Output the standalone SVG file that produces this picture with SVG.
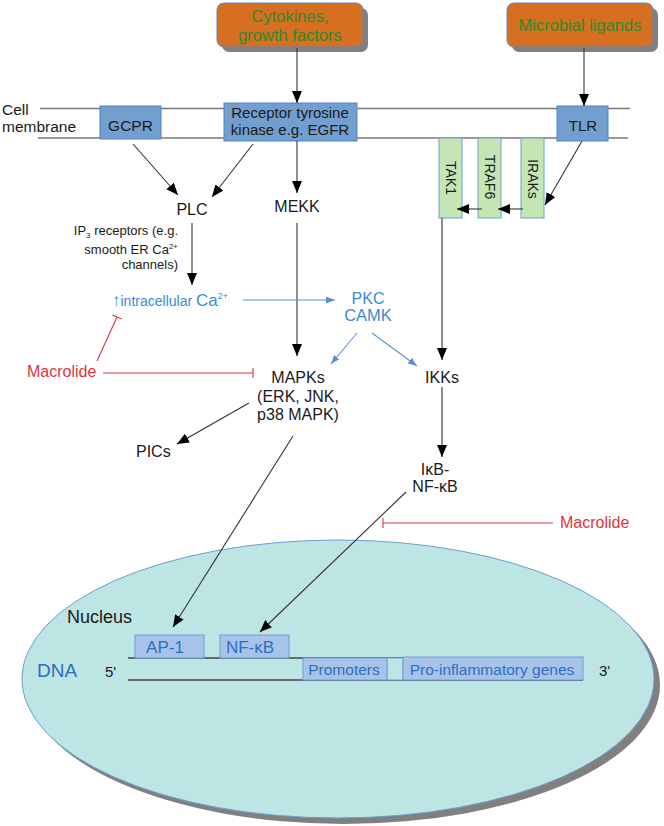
<svg xmlns="http://www.w3.org/2000/svg" width="664" height="826" viewBox="0 0 664 826">
<style>
text{font-family:"Liberation Sans",Arial,sans-serif;fill:#1a1a1a}
.blk{font-size:16px}
.blu{fill:#3a8ad6}
.red{fill:#e2333a;font-size:16px}
.grn{fill:#2f8a2f;font-size:16.5px}
.orange{fill:#d66f1f;stroke:#5a86c0;stroke-width:1}
.shadow{fill:#808080}
.rbox{fill:#729fcf;stroke:#4f83c4;stroke-width:1}
.gbox{fill:#c3e6b4;stroke:#6f9fd0;stroke-width:1}
.nbox{fill:#a8c3ea;stroke:#6f9fd2;stroke-width:1}
.ntext{fill:#2c6fc0}
.mem{stroke:#777;stroke-width:1.5;fill:none}
.arr{stroke:#333;stroke-width:1.1;fill:none;marker-end:url(#ah)}
.barr{stroke:#5b90d6;stroke-width:1.1;fill:none;marker-end:url(#bh)}
.inh{stroke:#e2333a;stroke-width:1.1;fill:none}
.dna{stroke:#444;stroke-width:1.5;fill:none}
</style>
<defs>
<marker id="ah" markerUnits="userSpaceOnUse" markerWidth="12" markerHeight="10" refX="12" refY="5" orient="auto"><path d="M0,0 L12,5 L0,10 z" fill="#000"/></marker>
<marker id="bh" markerUnits="userSpaceOnUse" markerWidth="9" markerHeight="7" refX="9" refY="3.5" orient="auto"><path d="M0,0 L9,3.5 L0,7 z" fill="#5b90d6"/></marker>
</defs>

<g id="nucleus">
<ellipse cx="344" cy="685" rx="316" ry="139" class="shadow"/>
<ellipse cx="338" cy="679" rx="316" ry="139" fill="#bde5e4" stroke="#6a9fd0" stroke-width="1"/>
<text x="67" y="623" style="font-size:18px">Nucleus</text>
</g>

<g id="membrane">
<line x1="40" y1="108.5" x2="630" y2="108.5" class="mem"/>
<line x1="38" y1="138" x2="628" y2="138" class="mem"/>
<text x="2" y="115" style="font-size:15.5px">Cell</text>
<text x="2" y="132" style="font-size:15.5px">membrane</text>
</g>

<g id="cytokines">
<rect x="222" y="8" width="146" height="44" rx="7" class="shadow"/>
<rect x="217" y="3" width="146" height="44" rx="7" class="orange"/>
<text x="290" y="22" text-anchor="middle" class="grn">Cytokines,</text>
<text x="290" y="41" text-anchor="middle" class="grn">growth factors</text>
</g>

<g id="microbial">
<rect x="512" y="8" width="146" height="44" rx="7" class="shadow"/>
<rect x="507" y="3" width="146" height="44" rx="7" class="orange"/>
<text x="580" y="31" text-anchor="middle" class="grn">Microbial ligands</text>
</g>

<g id="gcpr">
<rect x="100" y="106" width="61" height="33" class="rbox"/>
<text x="130.5" y="131" text-anchor="middle" style="font-size:15.5px">GCPR</text>
</g>

<g id="rtk">
<rect x="224" y="103" width="133" height="38" class="rbox"/>
<text x="290" y="118" text-anchor="middle" style="font-size:15px">Receptor tyrosine</text>
<text x="290" y="135" text-anchor="middle" style="font-size:15px">kinase e.g. EGFR</text>
</g>

<g id="tlr">
<rect x="557" y="106" width="51" height="35" class="rbox"/>
<text x="583" y="131" text-anchor="middle" style="font-size:15px">TLR</text>
</g>

<g id="tak1">
<rect x="439" y="138" width="23" height="80" class="gbox"/>
<text x="450.5" y="178" text-anchor="middle" dominant-baseline="central" transform="rotate(90 450.5 178)" style="font-size:14px">TAK1</text>
</g>
<g id="traf6">
<rect x="478" y="138" width="23" height="80" class="gbox"/>
<text x="489.5" y="177" text-anchor="middle" dominant-baseline="central" transform="rotate(90 489.5 177)" style="font-size:14px">TRAF6</text>
</g>
<g id="iraks">
<rect x="521" y="138" width="23" height="80" class="gbox"/>
<text x="532.5" y="179" text-anchor="middle" dominant-baseline="central" transform="rotate(90 532.5 179)" style="font-size:14px">IRAKs</text>
</g>

<g id="plc"><text x="192" y="215" text-anchor="middle" class="blk">PLC</text></g>
<g id="mekk"><text x="297" y="212" text-anchor="middle" class="blk">MEKK</text></g>
<g id="ip3">
<text x="178" y="235" text-anchor="end" style="font-size:13px">IP<tspan dy="3" style="font-size:8px">3</tspan><tspan dy="-3"> receptors (e.g.</tspan></text>
<text x="178" y="254" text-anchor="end" style="font-size:13px">smooth ER Ca<tspan dy="-5" style="font-size:8px">2+</tspan></text>
<text x="178" y="269" text-anchor="end" style="font-size:13px">channels)</text>
</g>
<g id="ca">
<text x="112" y="306" class="blu" style="font-size:14px"><tspan style="font-size:17px">↑</tspan>intracellular <tspan style="font-size:17px">Ca</tspan><tspan dy="-7" style="font-size:9px">2+</tspan></text>
</g>
<g id="pkc">
<text x="368" y="304" text-anchor="middle" class="blu" style="font-size:16px">PKC</text>
<text x="368" y="321" text-anchor="middle" class="blu" style="font-size:16.5px">CAMK</text>
</g>
<g id="mapks">
<text x="298" y="383" text-anchor="middle" class="blk">MAPKs</text>
<text x="298" y="402" text-anchor="middle" class="blk">(ERK, JNK,</text>
<text x="298" y="420" text-anchor="middle" class="blk">p38 MAPK)</text>
</g>
<g id="ikks"><text x="442" y="383" text-anchor="middle" class="blk">IKKs</text></g>
<g id="ikb">
<text x="435" y="475" text-anchor="middle" class="blk">IκB-</text>
<text x="435" y="492" text-anchor="middle" class="blk">NF-κB</text>
</g>
<g id="pics"><text x="136" y="457" class="blk">PICs</text></g>
<g id="macrolide1"><text x="27" y="377" class="red">Macrolide</text></g>
<g id="macrolide2"><text x="560" y="528" class="red">Macrolide</text></g>

<g id="dna">
<line x1="128" y1="658" x2="583" y2="658" class="dna"/>
<line x1="128" y1="680" x2="583" y2="680" class="dna"/>
<rect x="387" y="658" width="16" height="22" fill="#bde5e4" stroke="#6f9fd2" stroke-width="1"/>
<text x="37" y="677" class="ntext" style="font-size:19px">DNA</text>
<text x="105" y="677" style="font-size:15px">5'</text>
<text x="599" y="676" style="font-size:15px">3'</text>
</g>
<g id="ap1">
<rect x="135" y="635" width="69" height="23" class="nbox"/>
<text x="165" y="653" text-anchor="middle" class="ntext" style="font-size:17px">AP-1</text>
</g>
<g id="nfkb">
<rect x="220" y="635" width="69" height="23" class="nbox"/>
<text x="250" y="653" text-anchor="middle" class="ntext" style="font-size:17px">NF-κB</text>
</g>
<g id="promoters">
<rect x="303" y="658" width="84" height="22" class="nbox"/>
<text x="344" y="675" text-anchor="middle" class="ntext" style="font-size:15.5px">Promoters</text>
</g>
<g id="genes">
<rect x="403" y="657" width="180" height="23" class="nbox"/>
<text x="492" y="675" text-anchor="middle" class="ntext" style="font-size:15.5px">Pro-inflammatory genes</text>
</g>

<g id="connectors">
<line x1="297" y1="48" x2="297" y2="103" class="arr"/>
<line x1="584" y1="48" x2="584" y2="106" class="arr"/>
<line x1="133" y1="144" x2="178" y2="195" class="arr"/>
<line x1="253" y1="144" x2="212" y2="197" class="arr"/>
<line x1="297" y1="141" x2="297" y2="193" class="arr"/>
<line x1="582" y1="141" x2="545" y2="205" class="arr"/>
<line x1="523" y1="209" x2="498" y2="209" class="arr"/>
<line x1="482" y1="209" x2="457" y2="209" class="arr"/>
<line x1="442" y1="218" x2="442" y2="360" class="arr"/>
<line x1="192" y1="223" x2="192" y2="285" class="arr"/>
<line x1="297" y1="223" x2="297" y2="356" class="arr"/>
<line x1="442" y1="387" x2="442" y2="457" class="arr"/>
<line x1="249" y1="403" x2="177" y2="444" class="arr"/>
<line x1="293" y1="436" x2="173" y2="627" class="arr"/>
<line x1="406" y1="492" x2="260" y2="632" class="arr"/>
<line x1="243" y1="300" x2="335" y2="300" class="barr"/>
<line x1="357" y1="333" x2="331" y2="364" class="barr"/>
<line x1="372" y1="333" x2="417" y2="366" class="barr"/>
<line x1="103" y1="373" x2="253" y2="373" class="inh"/>
<line x1="253" y1="368" x2="253" y2="378" class="inh"/>
<line x1="97" y1="361" x2="117" y2="317" class="inh"/>
<line x1="112.5" y1="315" x2="121.5" y2="319" class="inh"/>
<line x1="383" y1="523" x2="553" y2="523" class="inh"/>
<line x1="383" y1="518" x2="383" y2="528" class="inh"/>
</g>
</svg>
